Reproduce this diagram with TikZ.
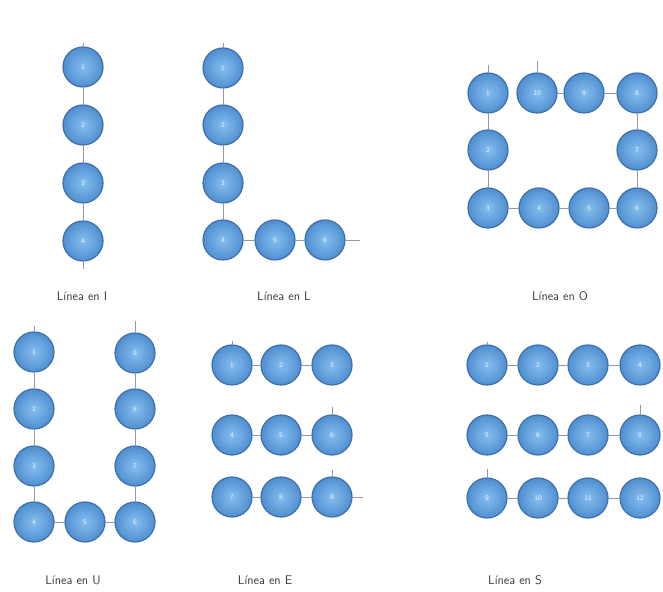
\documentclass[tikz,border=0pt]{standalone}
\usetikzlibrary{arrows.meta}
\definecolor{bubfill}{HTML}{4F8FD0}
\definecolor{bubedge}{HTML}{3F6FA8}
\definecolor{bubin}{HTML}{86BDEE}
\definecolor{conn}{HTML}{8E9AA8}
\definecolor{lbl}{HTML}{3A3A3A}
\tikzset{
  bub/.style={circle, minimum size=40pt, inner sep=0pt, draw=bubedge, line width=1.2pt,
    inner color=bubin, outer color=bubfill, text=white!90!bubfill,
    font=\sffamily\fontsize{7}{8}\selectfont},
  link/.style={draw=conn, line width=0.7pt},
  lab/.style={font=\sffamily\fontsize{12.5}{14}\selectfont, text=lbl}
}
\begin{document}
\begin{tikzpicture}[x=1pt,y=1pt]
\useasboundingbox (0,0) rectangle (663,591);
\fill[white] (0,0) rectangle (663,591);
% ---------- Linea en I
\node[bub] (i1) at (83,524) {1};
\node[bub] (i2) at (83,466) {2};
\node[bub] (i3) at (83,408) {3};
\node[bub] (i4) at (83,350) {4};
\coordinate (iin) at (83,548);
\coordinate (iout) at (83,322);
\draw[link] (iin) -- (i1);
\draw[link] (i1) -- (i2);
\draw[link] (i2) -- (i3);
\draw[link] (i3) -- (i4);
\draw[link] (i4) -- (iout);
\node[lab] (li) at (82,295) {Línea en I};
% ---------- Linea en L
\node[bub] (l1) at (223,523) {1};
\node[bub] (l2) at (223,466) {2};
\node[bub] (l3) at (223,408) {3};
\node[bub] (l4) at (223,351) {4};
\node[bub] (l5) at (275,351) {5};
\node[bub] (l6) at (325,351) {6};
\coordinate (lin) at (223,548);
\coordinate (lout) at (360,351);
\draw[link] (lin) -- (l1);
\draw[link] (l1) -- (l2);
\draw[link] (l2) -- (l3);
\draw[link] (l3) -- (l4);
\draw[link] (l4) -- (l5);
\draw[link] (l5) -- (l6);
\draw[link] (l6) -- (lout);
\node[lab] (ll) at (284,295) {Línea en L};
% ---------- Linea en O
\node[bub] (o1) at (488,498) {1};
\node[bub] (o2) at (488,441) {2};
\node[bub] (o3) at (488,383) {3};
\node[bub] (o4) at (539,383) {4};
\node[bub] (o5) at (589,383) {5};
\node[bub] (o6) at (637,383) {6};
\node[bub] (o7) at (637,441) {7};
\node[bub] (o8) at (637,498) {8};
\node[bub] (o9) at (584,498) {9};
\node[bub] (o10) at (537,498) {10};
\coordinate (oin) at (488,526);
\coordinate (oout) at (537,530);
\draw[link] (oin) -- (o1);
\draw[link] (o1) -- (o2);
\draw[link] (o2) -- (o3);
\draw[link] (o3) -- (o4);
\draw[link] (o4) -- (o5);
\draw[link] (o5) -- (o6);
\draw[link] (o6) -- (o7);
\draw[link] (o7) -- (o8);
\draw[link] (o8) -- (o9);
\draw[link] (o9) -- (o10);
\draw[link] (o10) -- (oout);
\node[lab] (lo) at (560,295) {Línea en O};
% ---------- Linea en U
\node[bub] (u1) at (34,239) {1};
\node[bub] (u2) at (34,182) {2};
\node[bub] (u3) at (34,125) {3};
\node[bub] (u4) at (34,69) {4};
\node[bub] (u5) at (85,69) {5};
\node[bub] (u6) at (135,69) {6};
\node[bub] (u7) at (135,125) {7};
\node[bub] (u8) at (135,182) {8};
\node[bub] (u9) at (135,238) {9};
\coordinate (uin) at (34,265);
\coordinate (uout) at (135,270);
\draw[link] (uin) -- (u1);
\draw[link] (u1) -- (u2);
\draw[link] (u2) -- (u3);
\draw[link] (u3) -- (u4);
\draw[link] (u4) -- (u5);
\draw[link] (u5) -- (u6);
\draw[link] (u6) -- (u7);
\draw[link] (u7) -- (u8);
\draw[link] (u8) -- (u9);
\draw[link] (u9) -- (uout);
\node[lab] (lu) at (73,11) {Línea en U};
% ---------- Linea en E
\node[bub] (e1) at (232,226) {1};
\node[bub] (e2) at (281,226) {2};
\node[bub] (e3) at (332,226) {3};
\node[bub] (e4) at (232,156) {4};
\node[bub] (e5) at (281,156) {5};
\node[bub] (e6) at (332,156) {6};
\node[bub] (e7) at (232,94) {7};
\node[bub] (e8) at (281,94) {8};
\node[bub] (e9) at (332,94) {9};
\coordinate (ein) at (232,250);
\coordinate (et1) at (332,184);
\coordinate (et2) at (332,121);
\coordinate (eout) at (363,94);
\draw[link] (ein) -- (e1);
\draw[link] (e1) -- (e2);
\draw[link] (e2) -- (e3);
\draw[link] (e4) -- (e5);
\draw[link] (e5) -- (e6);
\draw[link] (et1) -- (e6);
\draw[link] (e7) -- (e8);
\draw[link] (e8) -- (e9);
\draw[link] (et2) -- (e9);
\draw[link] (e9) -- (eout);
\node[lab] (le) at (265,11) {Línea en E};
% ---------- Linea en S
\node[bub] (s1) at (487,226) {1};
\node[bub] (s2) at (538,226) {2};
\node[bub] (s3) at (588,226) {3};
\node[bub] (s4) at (640,226) {4};
\node[bub] (s5) at (487,156) {5};
\node[bub] (s6) at (538,156) {6};
\node[bub] (s7) at (588,156) {7};
\node[bub] (s8) at (640,156) {8};
\node[bub] (s9) at (487,93) {9};
\node[bub] (s10) at (538,93) {10};
\node[bub] (s11) at (588,93) {11};
\node[bub] (s12) at (640,93) {12};
\coordinate (sin) at (487,249);
\coordinate (st1) at (640,186);
\coordinate (st2) at (487,122);
\draw[link] (sin) -- (s1);
\draw[link] (s1) -- (s2);
\draw[link] (s2) -- (s3);
\draw[link] (s3) -- (s4);
\draw[link] (s5) -- (s6);
\draw[link] (s6) -- (s7);
\draw[link] (s7) -- (s8);
\draw[link] (st1) -- (s8);
\draw[link] (s9) -- (s10);
\draw[link] (s10) -- (s11);
\draw[link] (s11) -- (s12);
\draw[link] (st2) -- (s9);
\node[lab] (ls) at (515,11) {Línea en S};
\end{tikzpicture}
\end{document}
